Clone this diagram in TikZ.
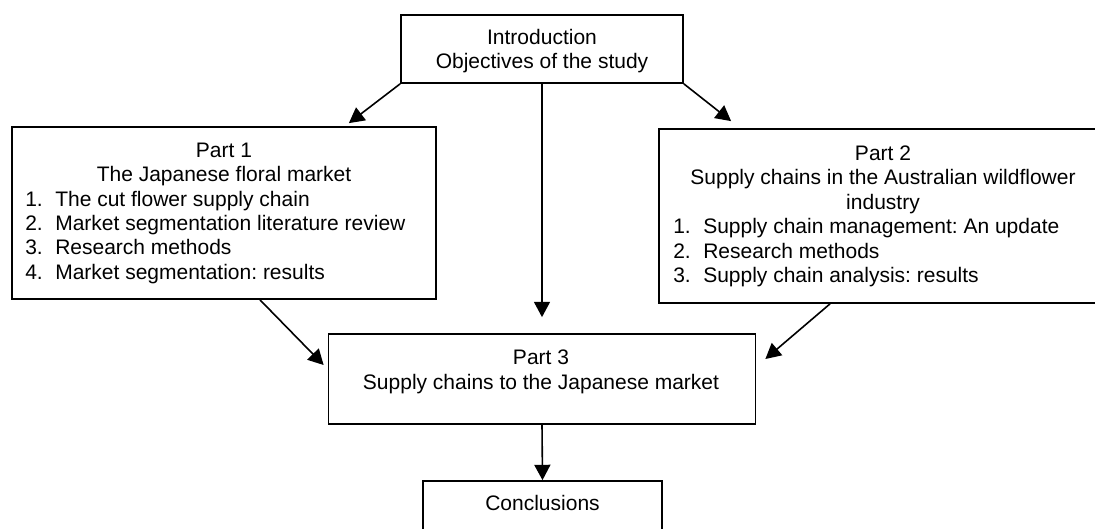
\documentclass[tikz,border=0pt]{standalone}
\usepackage{fontspec}
\setmainfont{Liberation Sans}
\usetikzlibrary{arrows.meta}
\frenchspacing
\begin{document}
\begin{tikzpicture}[x=0.75pt,y=-0.75pt]
\tikzset{
  frame/.style={draw, rectangle, line width=1.3pt, inner sep=0pt},
  lbl/.style={anchor=base, inner sep=0pt, font=\fontsize{15.75}{18}\selectfont},
  lbll/.style={lbl, anchor=base west},
  link/.style={line width=1.2pt, -{Triangle[length=11.5pt,width=12pt]}}
}
\useasboundingbox (0,0) rectangle (1095,528);
\clip (0,0) rectangle (1095,528);

% boxes
\node[frame, minimum width=211.5pt, minimum height=51pt]   (intro) at (542,49)  {};
\node[frame, minimum width=318pt,   minimum height=129pt]  (p1)    at (224,213) {};
\node[frame, minimum width=336pt,   minimum height=130.5pt](p2)    at (883,216) {};
\node[frame, minimum width=320.25pt,minimum height=67.5pt] (p3)    at (542,379) {};
\node[frame, minimum width=179.25pt,minimum height=51pt]   (concl) at (542.5,515) {};

% introduction
\node[lbl] (ia) at (542,45) {Introduction};
\node[lbl] (ib) at (542,69) {Objectives of the study};

% part 1
\node[lbl] (p1a) at (224,157.5) {Part 1};
\node[lbl] (p1b) at (224,181.85) {The Japanese floral market};
\node[lbll] (p1n1) at (25,206.2)  {1.};
\node[lbll] (p1i1) at (55,206.2)  {The cut flower supply chain};
\node[lbll] (p1n2) at (25,230.55) {2.};
\node[lbll] (p1i2) at (55,230.55) {Market segmentation literature review};
\node[lbll] (p1n3) at (25,254.9)  {3.};
\node[lbll] (p1i3) at (55,254.9)  {Research methods};
\node[lbll] (p1n4) at (25,279.25) {4.};
\node[lbll] (p1i4) at (55,279.25) {Market segmentation: results};

% part 2
\node[lbl] (p2a) at (883,160)   {Part 2};
\node[lbl] (p2b) at (883,184.5) {Supply chains in the Australian wildflower};
\node[lbl] (p2c) at (883,209)   {industry};
\node[lbll] (p2n1) at (673,233.5) {1.};
\node[lbll] (p2i1) at (703,233.5) {Supply chain management: An update};
\node[lbll] (p2n2) at (673,258)   {2.};
\node[lbll] (p2i2) at (703,258)   {Research methods};
\node[lbll] (p2n3) at (673,282.5) {3.};
\node[lbll] (p2i3) at (703,282.5) {Supply chain analysis: results};

% part 3
\node[lbl] (p3a) at (541,364.6) {Part 3};
\node[lbl] (p3b) at (541,389)   {Supply chains to the Japanese market};

% conclusions
\node[lbl] (ca) at (542.5,510) {Conclusions};

% connectors
\draw[link] (intro.south west) -- ([xshift=-66pt,yshift=2.25pt]p1.north east);
\draw[link] (intro.south east) -- ([xshift=54.75pt,yshift=5.25pt]p2.north west);
\draw[link] (intro.south) -- ([yshift=12pt]p3.north);
\draw[link] ([xshift=27pt]p1.south) -- ([xshift=-3pt,yshift=10.5pt]p3.west);
\draw[link] ([xshift=-39.75pt]p2.south) -- ([xshift=6.75pt,yshift=15pt]p3.east);
\draw[link] (p3.south) -- (concl.north);
\end{tikzpicture}
\end{document}
